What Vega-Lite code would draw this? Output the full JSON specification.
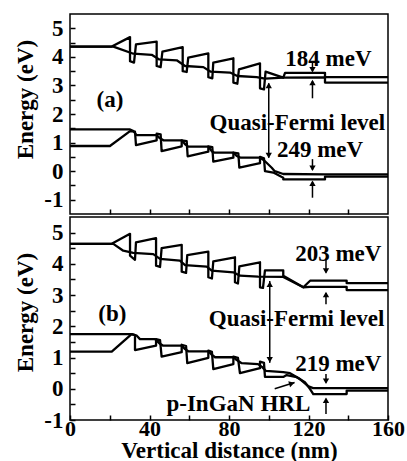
{
"$schema":"https://vega.github.io/schema/vega-lite/v6.json",
"background":"white",
"padding":{"left":14,"top":13,"right":0,"bottom":0},
"spacing":0,
"datasets":{
"la":[
{"s":"Ec","i":1,"x":0,"y":4.36},{"s":"Ec","i":2,"x":21,"y":4.36},{"s":"Ec","i":3,"x":30.2,"y":4.69},{"s":"Ec","i":4,"x":30.2,"y":3.85},{"s":"Ec","i":5,"x":32.2,"y":3.8},{"s":"Ec","i":6,"x":33.2,"y":4.44},{"s":"Ec","i":7,"x":43.6,"y":4.53},{"s":"Ec","i":8,"x":43.6,"y":3.68},{"s":"Ec","i":9,"x":45.6,"y":3.64},{"s":"Ec","i":10,"x":46.5,"y":4.18},{"s":"Ec","i":11,"x":56.7,"y":4.34},{"s":"Ec","i":12,"x":56.7,"y":3.5},{"s":"Ec","i":13,"x":58.7,"y":3.47},{"s":"Ec","i":14,"x":59.5,"y":3.97},{"s":"Ec","i":15,"x":69.6,"y":4.12},{"s":"Ec","i":16,"x":69.6,"y":3.29},{"s":"Ec","i":17,"x":71.6,"y":3.25},{"s":"Ec","i":18,"x":72.1,"y":3.8},{"s":"Ec","i":19,"x":82.2,"y":3.95},{"s":"Ec","i":20,"x":82.2,"y":3.1},{"s":"Ec","i":21,"x":84.2,"y":3.06},{"s":"Ec","i":22,"x":85,"y":3.56},{"s":"Ec","i":23,"x":95.6,"y":3.77},{"s":"Ec","i":24,"x":95.6,"y":2.9},{"s":"Ec","i":25,"x":97.6,"y":2.86},{"s":"Ec","i":26,"x":98.4,"y":3.48},{"s":"Ec","i":27,"x":107.3,"y":3.27},{"s":"Ec","i":28,"x":108.2,"y":3.44},{"s":"Ec","i":29,"x":128.3,"y":3.44},{"s":"Ec","i":30,"x":128.3,"y":3.29},{"s":"Ec","i":31,"x":160,"y":3.29},
{"s":"Fn","i":1,"x":0,"y":4.36},{"s":"Fn","i":2,"x":21.8,"y":4.36},{"s":"Fn","i":3,"x":31.9,"y":4.11},{"s":"Fn","i":4,"x":41.1,"y":4.07},{"s":"Fn","i":5,"x":44.9,"y":3.91},{"s":"Fn","i":6,"x":53.7,"y":3.88},{"s":"Fn","i":7,"x":57.9,"y":3.68},{"s":"Fn","i":8,"x":67.1,"y":3.64},{"s":"Fn","i":9,"x":70.8,"y":3.48},{"s":"Fn","i":10,"x":80.5,"y":3.45},{"s":"Fn","i":11,"x":84.2,"y":3.33},{"s":"Fn","i":12,"x":93.9,"y":3.29},{"s":"Fn","i":13,"x":98.1,"y":3.24},{"s":"Fn","i":14,"x":107.3,"y":3.27},{"s":"Fn","i":15,"x":128.3,"y":3.28},{"s":"Fn","i":16,"x":128.3,"y":3.1},{"s":"Fn","i":17,"x":160,"y":3.1},
{"s":"Ev","i":1,"x":0,"y":0.88},{"s":"Ev","i":2,"x":20.1,"y":0.88},{"s":"Ev","i":3,"x":30.2,"y":1.4},{"s":"Ev","i":4,"x":32.7,"y":1.38},{"s":"Ev","i":5,"x":33.2,"y":0.91},{"s":"Ev","i":6,"x":43.6,"y":1.08},{"s":"Ev","i":7,"x":43.6,"y":1.31},{"s":"Ev","i":8,"x":45.6,"y":1.29},{"s":"Ev","i":9,"x":46.1,"y":0.7},{"s":"Ev","i":10,"x":56.2,"y":0.87},{"s":"Ev","i":11,"x":56.2,"y":1.08},{"s":"Ev","i":12,"x":58.7,"y":1.05},{"s":"Ev","i":13,"x":59.2,"y":0.52},{"s":"Ev","i":14,"x":69.6,"y":0.68},{"s":"Ev","i":15,"x":69.6,"y":0.87},{"s":"Ev","i":16,"x":71.6,"y":0.84},{"s":"Ev","i":17,"x":72.1,"y":0.33},{"s":"Ev","i":18,"x":82.2,"y":0.47},{"s":"Ev","i":19,"x":82.2,"y":0.65},{"s":"Ev","i":20,"x":84.7,"y":0.62},{"s":"Ev","i":21,"x":85.2,"y":0.12},{"s":"Ev","i":22,"x":95.6,"y":0.28},{"s":"Ev","i":23,"x":95.6,"y":0.5},{"s":"Ev","i":24,"x":97.6,"y":0.45},{"s":"Ev","i":25,"x":98.1,"y":0.0},{"s":"Ev","i":26,"x":102.3,"y":-0.05},{"s":"Ev","i":27,"x":107.3,"y":-0.23},{"s":"Ev","i":28,"x":107.3,"y":-0.29},{"s":"Ev","i":29,"x":128.3,"y":-0.29},{"s":"Ev","i":30,"x":128.3,"y":-0.19},{"s":"Ev","i":31,"x":160,"y":-0.19},
{"s":"Fp","i":1,"x":0,"y":1.46},{"s":"Fp","i":2,"x":30.2,"y":1.46},{"s":"Fp","i":3,"x":31.9,"y":1.4},{"s":"Fp","i":4,"x":33.5,"y":1.26},{"s":"Fp","i":5,"x":43.6,"y":1.26},{"s":"Fp","i":6,"x":44.9,"y":1.17},{"s":"Fp","i":7,"x":47,"y":1.08},{"s":"Fp","i":8,"x":56.2,"y":1.08},{"s":"Fp","i":9,"x":57.9,"y":0.94},{"s":"Fp","i":10,"x":59.5,"y":0.86},{"s":"Fp","i":11,"x":69.6,"y":0.86},{"s":"Fp","i":12,"x":71.3,"y":0.7},{"s":"Fp","i":13,"x":72.5,"y":0.65},{"s":"Fp","i":14,"x":82.2,"y":0.65},{"s":"Fp","i":15,"x":83.9,"y":0.53},{"s":"Fp","i":16,"x":85.9,"y":0.47},{"s":"Fp","i":17,"x":95.6,"y":0.47},{"s":"Fp","i":18,"x":97.6,"y":0.38},{"s":"Fp","i":19,"x":101.5,"y":0.12},{"s":"Fp","i":20,"x":103,"y":0.0},{"s":"Fp","i":21,"x":107.3,"y":-0.1},{"s":"Fp","i":22,"x":128.3,"y":-0.11},{"s":"Fp","i":23,"x":160,"y":-0.11}
],
"lb":[
{"s":"Ec","i":1,"x":0,"y":4.64},{"s":"Ec","i":2,"x":21,"y":4.64},{"s":"Ec","i":3,"x":30.2,"y":4.96},{"s":"Ec","i":4,"x":30.2,"y":4.26},{"s":"Ec","i":5,"x":32.7,"y":4.13},{"s":"Ec","i":6,"x":33.2,"y":4.69},{"s":"Ec","i":7,"x":43.3,"y":4.82},{"s":"Ec","i":8,"x":43.3,"y":3.94},{"s":"Ec","i":9,"x":45.3,"y":3.9},{"s":"Ec","i":10,"x":46.1,"y":4.5},{"s":"Ec","i":11,"x":56.2,"y":4.61},{"s":"Ec","i":12,"x":56.2,"y":3.75},{"s":"Ec","i":13,"x":58.4,"y":3.71},{"s":"Ec","i":14,"x":59,"y":4.28},{"s":"Ec","i":15,"x":69.6,"y":4.39},{"s":"Ec","i":16,"x":69.6,"y":3.57},{"s":"Ec","i":17,"x":71.4,"y":3.53},{"s":"Ec","i":18,"x":72.1,"y":4.08},{"s":"Ec","i":19,"x":83,"y":4.21},{"s":"Ec","i":20,"x":83,"y":3.41},{"s":"Ec","i":21,"x":84.5,"y":3.37},{"s":"Ec","i":22,"x":85.2,"y":3.92},{"s":"Ec","i":23,"x":95.6,"y":4.05},{"s":"Ec","i":24,"x":95.6,"y":3.25},{"s":"Ec","i":25,"x":97.1,"y":3.23},{"s":"Ec","i":26,"x":98.1,"y":3.79},{"s":"Ec","i":27,"x":107.3,"y":3.79},{"s":"Ec","i":28,"x":107.3,"y":3.62},{"s":"Ec","i":29,"x":117.4,"y":3.25},{"s":"Ec","i":30,"x":120.8,"y":3.46},{"s":"Ec","i":31,"x":139.2,"y":3.46},{"s":"Ec","i":32,"x":139.2,"y":3.38},{"s":"Ec","i":33,"x":160,"y":3.38},
{"s":"Fn","i":1,"x":0,"y":4.64},{"s":"Fn","i":2,"x":21.8,"y":4.64},{"s":"Fn","i":3,"x":26.8,"y":4.42},{"s":"Fn","i":4,"x":31.8,"y":4.35},{"s":"Fn","i":5,"x":41.9,"y":4.31},{"s":"Fn","i":6,"x":45.3,"y":4.16},{"s":"Fn","i":7,"x":55.3,"y":4.1},{"s":"Fn","i":8,"x":57.9,"y":3.96},{"s":"Fn","i":9,"x":68.8,"y":3.91},{"s":"Fn","i":10,"x":71.3,"y":3.78},{"s":"Fn","i":11,"x":82.2,"y":3.73},{"s":"Fn","i":12,"x":85.5,"y":3.62},{"s":"Fn","i":13,"x":94.6,"y":3.59},{"s":"Fn","i":14,"x":107.3,"y":3.58},{"s":"Fn","i":15,"x":117.4,"y":3.25},{"s":"Fn","i":16,"x":120.8,"y":3.26},{"s":"Fn","i":17,"x":139.2,"y":3.26},{"s":"Fn","i":18,"x":139.2,"y":3.16},{"s":"Fn","i":19,"x":160,"y":3.16},
{"s":"Ev","i":1,"x":0,"y":1.19},{"s":"Ev","i":2,"x":21,"y":1.19},{"s":"Ev","i":3,"x":31,"y":1.75},{"s":"Ev","i":4,"x":32.7,"y":1.72},{"s":"Ev","i":5,"x":32.7,"y":1.24},{"s":"Ev","i":6,"x":43.3,"y":1.38},{"s":"Ev","i":7,"x":43.3,"y":1.59},{"s":"Ev","i":8,"x":45.3,"y":1.56},{"s":"Ev","i":9,"x":46.1,"y":1.03},{"s":"Ev","i":10,"x":56.2,"y":1.17},{"s":"Ev","i":11,"x":56.2,"y":1.41},{"s":"Ev","i":12,"x":58.4,"y":1.37},{"s":"Ev","i":13,"x":59,"y":0.82},{"s":"Ev","i":14,"x":69.6,"y":0.99},{"s":"Ev","i":15,"x":69.6,"y":1.22},{"s":"Ev","i":16,"x":71.4,"y":1.18},{"s":"Ev","i":17,"x":72.1,"y":0.63},{"s":"Ev","i":18,"x":82.2,"y":0.79},{"s":"Ev","i":19,"x":82.2,"y":1.03},{"s":"Ev","i":20,"x":84.5,"y":0.99},{"s":"Ev","i":21,"x":85.5,"y":0.5},{"s":"Ev","i":22,"x":95.6,"y":0.66},{"s":"Ev","i":23,"x":95.6,"y":0.87},{"s":"Ev","i":24,"x":97.6,"y":0.83},{"s":"Ev","i":25,"x":98.1,"y":0.38},{"s":"Ev","i":26,"x":107.3,"y":0.38},{"s":"Ev","i":27,"x":109,"y":0.44},{"s":"Ev","i":28,"x":114.1,"y":0.37},{"s":"Ev","i":29,"x":118.2,"y":0.21},{"s":"Ev","i":30,"x":120.8,"y":-0.01},{"s":"Ev","i":31,"x":122.4,"y":-0.17},{"s":"Ev","i":32,"x":139.2,"y":-0.17},{"s":"Ev","i":33,"x":139.2,"y":-0.06},{"s":"Ev","i":34,"x":160,"y":-0.06},
{"s":"Fp","i":1,"x":0,"y":1.75},{"s":"Fp","i":2,"x":31,"y":1.75},{"s":"Fp","i":3,"x":33.6,"y":1.7},{"s":"Fp","i":4,"x":35.2,"y":1.59},{"s":"Fp","i":5,"x":42.8,"y":1.59},{"s":"Fp","i":6,"x":44.9,"y":1.46},{"s":"Fp","i":7,"x":46.9,"y":1.38},{"s":"Fp","i":8,"x":56.2,"y":1.38},{"s":"Fp","i":9,"x":57.9,"y":1.27},{"s":"Fp","i":10,"x":59.5,"y":1.2},{"s":"Fp","i":11,"x":69.6,"y":1.2},{"s":"Fp","i":12,"x":71.3,"y":1.09},{"s":"Fp","i":13,"x":73,"y":1.01},{"s":"Fp","i":14,"x":82.2,"y":1.01},{"s":"Fp","i":15,"x":83.9,"y":0.92},{"s":"Fp","i":16,"x":86.4,"y":0.82},{"s":"Fp","i":17,"x":94.6,"y":0.79},{"s":"Fp","i":18,"x":96.6,"y":0.7},{"s":"Fp","i":19,"x":98.6,"y":0.57},{"s":"Fp","i":20,"x":107.3,"y":0.53},{"s":"Fp","i":21,"x":110.7,"y":0.5},{"s":"Fp","i":22,"x":115.7,"y":0.31},{"s":"Fp","i":23,"x":119.7,"y":0.09},{"s":"Fp","i":24,"x":122.3,"y":0.02},{"s":"Fp","i":25,"x":160,"y":0.02}
],
"ra":[{"x":122,"y":3.85,"y2":3.5},{"x":122,"y":2.55,"y2":3.15},{"x":100,"y":3.08,"y2":0.47},{"x":122,"y":0.42,"y2":0.05},{"x":122,"y":-0.93,"y2":-0.37}],
"ha":[{"x":122,"y":3.55,"sh":"down"},{"x":122,"y":3.1,"sh":"up"},{"x":100,"y":3.0,"sh":"up"},{"x":100,"y":0.55,"sh":"down"},{"x":122,"y":0.1,"sh":"down"},{"x":122,"y":-0.42,"sh":"up"}],
"ta":[{"x":20.1,"y":2.24,"t":"(a)"},{"x":130,"y":3.68,"t":"184 meV"},{"x":114.4,"y":1.43,"t":"Quasi-Fermi level"},{"x":125.8,"y":0.49,"t":"249 meV"}],
"rb":[{"x":128.8,"y":4.16,"y2":3.72},{"x":128.8,"y":2.71,"y2":3.07},{"x":100.5,"y":3.45,"y2":0.83},{"x":128.8,"y":0.47,"y2":0.2},{"x":128.8,"y":-0.81,"y2":-0.32}],
"hb":[{"x":128.8,"y":3.77,"sh":"down"},{"x":128.8,"y":3.02,"sh":"up"},{"x":100.5,"y":3.35,"sh":"up"},{"x":100.5,"y":0.93,"sh":"down"},{"x":128.8,"y":0.24,"sh":"down"},{"x":128.8,"y":-0.37,"sh":"up"}],
"ab":[{"x":103,"y":0.0,"x2":113,"y2":0.2}],
"hh":[{"x":111.6,"y":0.17}],
"tb":[{"x":21.3,"y":2.18,"t":"(b)"},{"x":135,"y":4.1,"t":"203 meV"},{"x":114,"y":2.02,"t":"Quasi-Fermi level"},{"x":135,"y":0.58,"t":"219 meV"},{"x":84.7,"y":-0.7,"t":"p-InGaN HRL"}]
},
"vconcat":[
{
"width":318,"height":200,
"encoding":{
"x":{"field":"x","type":"quantitative","scale":{"domain":[0,160],"nice":false},"axis":{"values":[20,40,60,80,100,120,140],"labels":false,"title":null}},
"y":{"field":"y","type":"quantitative","scale":{"domain":[-1.5,5.5],"nice":false,"zero":false},"axis":{"values":[-1,-0.5,0,0.5,1,1.5,2,2.5,3,3.5,4,4.5,5],"labelExpr":"datum.value % 1 == 0 ? (datum.value < 0 ? '-' + abs(datum.value) : '' + datum.value) : ''","title":"Energy (eV)","titleY":85}}
},
"layer":[
{"data":{"name":"la"},"mark":{"type":"line","color":"black","strokeWidth":2.3,"strokeJoin":"round"},"encoding":{"detail":{"field":"s","type":"nominal"},"order":{"field":"i","type":"quantitative"}}},
{"data":{"name":"ra"},"mark":{"type":"rule","color":"black","strokeWidth":1.5},"encoding":{"y2":{"field":"y2"}}},
{"data":{"name":"ha"},"mark":{"type":"point","filled":true,"color":"black","size":40,"opacity":1},"encoding":{"shape":{"field":"sh","type":"nominal","scale":{"domain":["up","down"],"range":["triangle-up","triangle-down"]},"legend":null}}},
{"data":{"name":"ta"},"mark":{"type":"text","font":"Liberation Serif","fontWeight":"bold","fontSize":23,"color":"black","baseline":"alphabetic","align":"center"},"encoding":{"text":{"field":"t","type":"nominal"}}}
]
},
{
"width":318,"height":203,
"encoding":{
"x":{"field":"x","type":"quantitative","scale":{"domain":[0,160],"nice":false},"axis":{"values":[0,20,40,60,80,100,120,140,160],"labelExpr":"datum.value % 40 == 0 ? '' + datum.value : ''","labelFontSize":22,"labelPadding":3,"title":"Vertical distance (nm)","titleFontSize":23,"titlePadding":0}},
"y":{"field":"y","type":"quantitative","scale":{"domain":[-1,5.5],"nice":false,"zero":false},"axis":{"values":[-1,-0.5,0,0.5,1,1.5,2,2.5,3,3.5,4,4.5,5],"labelExpr":"datum.value % 1 == 0 ? (datum.value < 0 ? '-' + abs(datum.value) : '' + datum.value) : ''","title":"Energy (eV)","titleY":95}}
},
"layer":[
{"data":{"name":"lb"},"mark":{"type":"line","color":"black","strokeWidth":2.3,"strokeJoin":"round"},"encoding":{"detail":{"field":"s","type":"nominal"},"order":{"field":"i","type":"quantitative"}}},
{"data":{"name":"rb"},"mark":{"type":"rule","color":"black","strokeWidth":1.5},"encoding":{"y2":{"field":"y2"}}},
{"data":{"name":"ab"},"mark":{"type":"rule","color":"black","strokeWidth":1.5},"encoding":{"x2":{"field":"x2"},"y2":{"field":"y2"}}},
{"data":{"name":"hb"},"mark":{"type":"point","filled":true,"color":"black","size":40,"opacity":1},"encoding":{"shape":{"field":"sh","type":"nominal","scale":{"domain":["up","down"],"range":["triangle-up","triangle-down"]},"legend":null}}},
{"data":{"name":"hh"},"mark":{"type":"point","filled":true,"color":"black","size":40,"opacity":1,"shape":"triangle-right","angle":-17},"encoding":{}},
{"data":{"name":"tb"},"mark":{"type":"text","font":"Liberation Serif","fontWeight":"bold","fontSize":23,"color":"black","baseline":"alphabetic","align":"center"},"encoding":{"text":{"field":"t","type":"nominal"}}}
]
}
],
"config":{
"view":{"stroke":"black","strokeWidth":1.5},
"axis":{"domain":false,"grid":false,"tickColor":"black","tickWidth":1.5,"tickSize":-5,"labelFont":"Liberation Serif","labelFontWeight":"bold","labelFontSize":23,"labelColor":"black","labelPadding":12,"labelFlush":false,"labelOverlap":false,"titleFont":"Liberation Serif","titleFontWeight":"bold","titleFontSize":23,"titleColor":"black"},
"axisY":{"titlePadding":6}
}
}
